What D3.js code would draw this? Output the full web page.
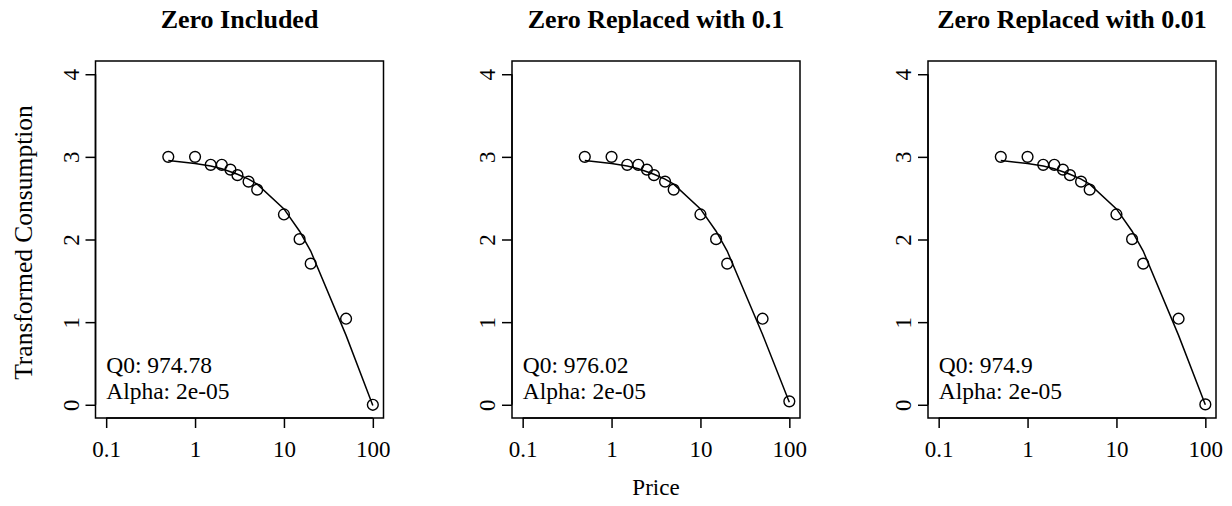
<!DOCTYPE html>
<html>
<head>
<meta charset="utf-8">
<script src="https://cdn.jsdelivr.net/npm/d3@7"></script>
<style>
  html, body { margin: 0; padding: 0; background: #fff; }
  svg { display: block; }
  text { font-family: "Liberation Serif", "Times New Roman", serif; fill: #000; }
</style>
</head>
<body>
<svg id="chart" width="1232" height="506"></svg>
<script>
// ---- data ----
const titles = ["Zero Included", "Zero Replaced with 0.1", "Zero Replaced with 0.01"];
const prices = [0.5, 1, 1.5, 2, 2.5, 3, 4, 5, 10, 15, 20, 50, 100];
const consumption = [1000, 1000, 800, 800, 700, 600, 500, 400, 200, 100, 50, 10, 0];
const zeroReplacement = [0, 0.1, 0.01];
// fitted (transformed) values
const fitted1 = [2.955, 2.92, 2.89, 2.855, 2.82, 2.79, 2.73, 2.67, 2.37, 2.10, 1.86, 0.84, -0.01];
const fitted2 = [2.955, 2.92, 2.89, 2.855, 2.82, 2.79, 2.73, 2.67, 2.37, 2.10, 1.86, 0.85, 0.03];
const fitted3 = [2.955, 2.92, 2.89, 2.855, 2.82, 2.79, 2.73, 2.67, 2.37, 2.10, 1.86, 0.84, 0.0];
const fittedAll = [fitted1, fitted2, fitted3];
const q0Labels = ["Q0: 974.78", "Q0: 976.02", "Q0: 974.9"];
const alphaLabels = ["Alpha: 2e-05", "Alpha: 2e-05", "Alpha: 2e-05"];
const xTicks = [0.1, 1, 10, 100];
const xTickLabels = ["0.1", "1", "10", "100"];
const yTicks = [0, 1, 2, 3, 4];
const yLabel = "Transformed Consumption";
const xLabel = "Price";

// ---- layout ----
const svg = d3.select("#chart");
const panelLefts = [95.5, 512, 928];
const panelW = 288;
const plotTop = 61, plotBottom = 418;

const y = d3.scaleLinear().domain([-0.16, 4.16]).range([plotBottom, plotTop]);

panelLefts.forEach((left, i) => {
  const x = d3.scaleLog().domain([Math.pow(10, -1.12), Math.pow(10, 2.12)]).range([left, left + panelW]);
  const g = svg.append("g");

  // box
  g.append("rect")
    .attr("x", left).attr("y", plotTop)
    .attr("width", panelW).attr("height", plotBottom - plotTop)
    .attr("fill", "none").attr("stroke", "#000").attr("stroke-width", 1.5);

  // x axis
  const xAxis = d3.axisBottom(x).tickValues(xTicks).tickFormat((d, k) => xTickLabels[k]).tickSizeOuter(0).tickSizeInner(10);
  const xa = g.append("g").attr("transform", `translate(0,${plotBottom})`).call(xAxis);
  xa.select(".domain").attr("d", `M${x(xTicks[0])},0H${x(xTicks[xTicks.length-1])}`).attr("stroke-width", 1.5);
  xa.selectAll(".tick line").attr("stroke-width", 1.5);
  xa.selectAll(".tick text").attr("font-size", 23).attr("font-family", "Liberation Serif").attr("dy", null).attr("y", 39);

  // y axis
  const yAxis = d3.axisLeft(y).tickValues(yTicks).tickFormat(d3.format("d")).tickSizeOuter(0).tickSizeInner(10);
  const ya = g.append("g").attr("transform", `translate(${left},0)`).call(yAxis);
  ya.select(".domain").attr("d", `M0,${y(0)}V${y(4)}`).attr("stroke-width", 1.5);
  ya.selectAll(".tick line").attr("stroke-width", 1.5);
  ya.selectAll(".tick text")
    .attr("font-size", 23).attr("font-family", "Liberation Serif")
    .attr("x", null).attr("dy", null).attr("y", null)
    .attr("text-anchor", "middle")
    .attr("transform", "translate(-17,0) rotate(-90)");

  // title
  g.append("text")
    .attr("x", left + panelW / 2).attr("y", 28)
    .attr("text-anchor", "middle")
    .attr("font-size", 26).attr("font-weight", "bold")
    .text(titles[i]);

  // fitted curve
  const fitted = fittedAll[i];
  const line = d3.line().x(d => x(d[0])).y(d => y(d[1]));
  g.append("path")
    .datum(prices.map((p, k) => [p, fitted[k]]))
    .attr("d", line)
    .attr("fill", "none").attr("stroke", "#000").attr("stroke-width", 1.5);

  // points
  const vals = consumption.map(c => Math.log10((c === 0 ? zeroReplacement[i] : c) + 1));
  g.selectAll("circle.pt")
    .data(prices.map((p, k) => [p, vals[k]]))
    .enter().append("circle")
    .attr("class", "pt")
    .attr("cx", d => x(d[0])).attr("cy", d => y(d[1]))
    .attr("r", 5.4)
    .attr("fill", "none").attr("stroke", "#000").attr("stroke-width", 1.4);

  // annotations
  g.append("text")
    .attr("x", x(0.1)).attr("y", 372.5)
    .attr("font-size", 23.5)
    .text(q0Labels[i]);
  g.append("text")
    .attr("x", x(0.1)).attr("y", 398.5)
    .attr("font-size", 23.5)
    .text(alphaLabels[i]);

  if (i === 0) {
    g.append("text")
      .attr("transform", `translate(32,${(y(0) + y(4)) / 2 + 3}) rotate(-90)`)
      .attr("text-anchor", "middle")
      .attr("font-size", 25.5)
      .text(yLabel);
  }
  if (i === 1) {
    g.append("text")
      .attr("x", left + panelW / 2).attr("y", 495)
      .attr("text-anchor", "middle")
      .attr("font-size", 23)
      .text(xLabel);
  }
});
</script>
</body>
</html>
